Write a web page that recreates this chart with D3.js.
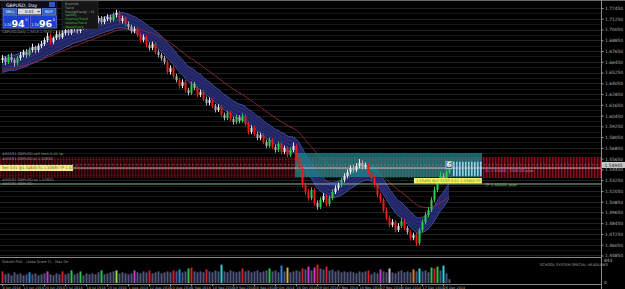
<!DOCTYPE html>
<html><head><meta charset="utf-8">
<script src="https://cdn.jsdelivr.net/npm/d3@7"></script>
<style>
html,body{margin:0;padding:0;background:#000;overflow:hidden}
svg{display:block;font-family:"DejaVu Sans",sans-serif}
</style></head><body>
<svg id="chart" width="625" height="289"></svg>
<script>
// GBPUSD daily bars
const opens = [
1.6665,1.6687,1.6643,1.6698,1.6665,1.6631,1.6687,
1.6721,1.6754,1.6721,1.6776,1.6810,1.6776,1.6821,
1.6843,1.6888,1.6933,1.6866,1.6910,1.6955,1.6921,
1.6966,1.6999,1.6966,1.7011,1.7033,1.6988,1.7022,
1.7055,1.7033,1.7078,1.7044,1.7100,1.7133,1.7089,
1.7122,1.7144,1.7111,1.7167,1.7189,1.7100,1.7133,
1.7066,1.7033,1.6988,1.7011,1.6944,1.6888,1.6921,
1.6832,1.6799,1.6843,1.6754,1.6721,1.6687,1.6643,
1.6531,1.6576,1.6486,1.6442,1.6375,1.6420,1.6330,
1.6297,1.6397,1.6353,1.6275,1.6308,1.6230,1.6185,
1.6219,1.6152,1.6107,1.6141,1.6052,1.6018,1.6074,
1.6007,1.5973,1.6029,1.5985,1.6040,1.5951,1.5862,
1.5907,1.5840,1.5795,1.5828,1.5750,1.5706,1.5773,
1.5695,1.5661,1.5728,1.5639,1.5684,1.5605,1.5661,
1.5706,1.5572,1.5460,1.5271,1.5193,1.5126,1.5215,
1.5070,1.5026,1.5104,1.5148,1.5059,1.5126,1.5193,
1.5237,1.5271,1.5327,1.5371,1.5416,1.5460,1.5438,
1.5483,1.5516,1.5472,1.5494,1.5416,1.5349,1.5271,
1.5159,1.5104,1.4992,1.4903,1.4825,1.4858,1.4769,
1.4814,1.4869,1.4791,1.4747,1.4680,1.4713,1.4624,
1.4769,1.4858,1.4936,1.4992,1.5104,1.5215,1.5304,
1.5371,1.5327,1.5416];
const highs = [
1.6722,1.6705,1.6730,1.6741,1.6684,1.6712,1.6755,
1.6780,1.6788,1.6805,1.6848,1.6825,1.6850,1.6878,
1.6915,1.6970,1.6960,1.6927,1.6990,1.6982,1.6995,
1.7030,1.7025,1.7040,1.7065,1.7058,1.7040,1.7088,
1.7080,1.7105,1.7100,1.7128,1.7160,1.7155,1.7150,
1.7175,1.7170,1.7195,1.7225,1.7215,1.7160,1.7152,
1.7095,1.7060,1.7040,1.7035,1.6970,1.6950,1.6945,
1.6860,1.6870,1.6865,1.6780,1.6745,1.6710,1.6665,
1.6605,1.6600,1.6510,1.6465,1.6450,1.6442,1.6355,
1.6425,1.6420,1.6375,1.6335,1.6330,1.6255,1.6248,
1.6240,1.6175,1.6170,1.6162,1.6078,1.6100,1.6095,
1.6030,1.6055,1.6050,1.6070,1.6062,1.5975,1.5935,
1.5930,1.5865,1.5855,1.5850,1.5775,1.5800,1.5795,
1.5720,1.5755,1.5750,1.5710,1.5705,1.5690,1.5745,
1.5728,1.5595,1.5485,1.5300,1.5225,1.5245,1.5238,
1.5098,1.5135,1.5180,1.5170,1.5155,1.5222,1.5268,
1.5300,1.5355,1.5402,1.5445,1.5490,1.5495,1.5515,
1.5562,1.5545,1.5522,1.5518,1.5440,1.5372,1.5295,
1.5185,1.5128,1.5020,1.4930,1.4890,1.4880,1.4845,
1.4900,1.4892,1.4815,1.4770,1.4740,1.4735,1.4795,
1.4885,1.4965,1.5025,1.5135,1.5250,1.5340,1.5420,
1.5400,1.5445,1.5530];
const lows = [
1.6631,1.6608,1.6620,1.6640,1.6592,1.6605,1.6660,
1.6695,1.6690,1.6702,1.6750,1.6741,1.6750,1.6795,
1.6820,1.6862,1.6838,1.6841,1.6888,1.6893,1.6900,
1.6940,1.6938,1.6945,1.6985,1.6960,1.6965,1.7000,
1.7005,1.7010,1.7018,1.7025,1.7075,1.7060,1.7065,
1.7098,1.7085,1.7090,1.7140,1.7075,1.7072,1.7040,
1.7005,1.6960,1.6962,1.6920,1.6860,1.6862,1.6805,
1.6770,1.6775,1.6728,1.6692,1.6658,1.6615,1.6505,
1.6502,1.6460,1.6415,1.6345,1.6350,1.6302,1.6270,
1.6275,1.6328,1.6250,1.6252,1.6205,1.6158,1.6160,
1.6128,1.6080,1.6085,1.6025,1.5990,1.5995,1.5980,
1.5945,1.5952,1.5960,1.5965,1.5925,1.5835,1.5838,
1.5812,1.5768,1.5770,1.5725,1.5680,1.5685,1.5670,
1.5632,1.5638,1.5612,1.5615,1.5578,1.5582,1.5638,
1.5545,1.5432,1.5240,1.5162,1.5095,1.5100,1.5040,
1.4995,1.5002,1.5080,1.5030,1.5035,1.5100,1.5170,
1.5210,1.5248,1.5300,1.5345,1.5390,1.5410,1.5415,
1.5458,1.5445,1.5448,1.5390,1.5322,1.5245,1.5130,
1.5075,1.4965,1.4875,1.4798,1.4800,1.4740,1.4745,
1.4790,1.4765,1.4720,1.4652,1.4655,1.4588,1.4600,
1.4745,1.4830,1.4910,1.4970,1.5080,1.5190,1.5280,
1.5300,1.5305,1.5395];
const closes = [
1.6687,1.6643,1.6698,1.6665,1.6631,1.6687,1.6721,
1.6754,1.6721,1.6776,1.6810,1.6776,1.6821,1.6843,
1.6888,1.6933,1.6866,1.6910,1.6955,1.6921,1.6966,
1.6999,1.6966,1.7011,1.7033,1.6988,1.7022,1.7055,
1.7033,1.7078,1.7044,1.7100,1.7133,1.7089,1.7122,
1.7144,1.7111,1.7167,1.7189,1.7100,1.7133,1.7066,
1.7033,1.6988,1.7011,1.6944,1.6888,1.6921,1.6832,
1.6799,1.6843,1.6754,1.6721,1.6687,1.6643,1.6531,
1.6576,1.6486,1.6442,1.6375,1.6420,1.6330,1.6297,
1.6397,1.6353,1.6275,1.6308,1.6230,1.6185,1.6219,
1.6152,1.6107,1.6141,1.6052,1.6018,1.6074,1.6007,
1.5973,1.6029,1.5985,1.6040,1.5951,1.5862,1.5907,
1.5840,1.5795,1.5828,1.5750,1.5706,1.5773,1.5695,
1.5661,1.5728,1.5639,1.5684,1.5605,1.5661,1.5706,
1.5572,1.5460,1.5271,1.5193,1.5126,1.5215,1.5070,
1.5026,1.5104,1.5148,1.5059,1.5126,1.5193,1.5237,
1.5271,1.5327,1.5371,1.5416,1.5460,1.5438,1.5483,
1.5516,1.5472,1.5494,1.5416,1.5349,1.5271,1.5159,
1.5104,1.4992,1.4903,1.4825,1.4858,1.4769,1.4814,
1.4869,1.4791,1.4747,1.4680,1.4713,1.4624,1.4769,
1.4858,1.4936,1.4992,1.5104,1.5215,1.5304,1.5371,
1.5327,1.5416,1.5494];

// tick volume + PVA colour class of each bar
const volumes = [
408,306,340,272,374,306,340,272,306,374,
306,340,272,306,340,408,306,272,340,306,
408,306,340,442,306,340,408,272,340,306,
340,306,374,442,306,340,374,408,442,340,
374,340,306,340,442,374,340,408,374,442,
340,374,408,340,374,408,374,442,408,476,
374,408,510,544,408,374,408,374,476,408,
374,442,408,646,408,374,442,408,374,408,
510,408,442,374,408,442,374,408,442,510,
408,442,374,612,408,544,374,408,442,408,
510,476,578,442,544,646,510,476,578,442,
476,408,442,374,408,374,408,374,340,408,
374,408,442,306,374,340,476,408,374,510,
374,340,408,442,374,408,374,476,408,510,
408,442,374,544,510,578,442,612,340,136];
const volKind = ("rnnnnnnnnb" + "nnnnnmnnnn" + "rnngnngnnn" + "nnngnnnnln" + "nnnnmnnnnr" +
                 "nnnnnnnrnb" + "nngrnnnnrn" + "nnncnnnnnn" + "rnnnnnnnng" + "nnnbnynnnn" +
                 "rnmnmrnnrn" + "nnnnnnnnnn" + "nnrnnnmnnw" + "nnnnnnnonc" + "nnngrgncnn").split("");
const volMax = 843;

const priceTicks = [1.7245,1.7125,1.7005,1.6885,1.6765,1.6645,1.6525,1.6405,1.6285,1.6165,1.6045,1.5925,
                    1.5805,1.5685,1.5565,1.5445,1.5325,1.5205,1.5085,1.4965,1.4845,1.4725,1.4605,1.4485];
const dateIdx = [0,7,14,21,28,35,42,49,56,63,70,77,84,91,98,105,112,119,126,133,140,147];
const dateLabels = ["4 Jun 2014","13 Jun 2014","24 Jun 2014","3 Jul 2014","14 Jul 2014","23 Jul 2014",
                    "1 Aug 2014","12 Aug 2014","21 Aug 2014","1 Sep 2014","10 Sep 2014","19 Sep 2014",
                    "30 Sep 2014","9 Oct 2014","20 Oct 2014","29 Oct 2014","7 Nov 2014","18 Nov 2014",
                    "27 Nov 2014","8 Dec 2014","17 Dec 2014","26 Dec 2014"];

// trade objects drawn on the chart
const zoneTop = 1.5628, zoneBottom = 1.5360, zoneFrom = 98, zoneTo = 160;
const bandTop = 1.5583, bandBottom = 1.5349;
const entryLevel = 1.5460, tpLevel = 1.5282;
const bid = 1.54945, ask = 1.54965;
const ribbonSeed = 1.6600, slowSeed = 1.6540;

const svg = d3.select("#chart");
const plotR = 601, mainBottom = 256, volTop = 258, volBottom = 283;

const x = d3.scaleLinear().domain([0, 200]).range([2, 602]);
const y = d3.scaleLinear().domain([1.4479, 1.7334]).range([mainBottom, 0]);
const yv = d3.scaleLinear().domain([0, volMax]).range([volBottom, volTop + 1]);

svg.append("rect").attr("width", 625).attr("height", 289).attr("fill", "#000");

let defs = svg.append("defs");
defs.append("clipPath").attr("id", "clipMain")
    .append("rect").attr("x", 0).attr("y", 1).attr("width", plotR).attr("height", mainBottom);
let rp = defs.append("pattern").attr("id", "redStripe").attr("patternUnits", "userSpaceOnUse")
    .attr("width", 3).attr("height", 6);
rp.append("rect").attr("width", 3).attr("height", 6).attr("fill", "#26030a");
rp.append("rect").attr("width", 1.4).attr("height", 6).attr("fill", "#a0101e");
let cp = defs.append("pattern").attr("id", "cyanStripe").attr("patternUnits", "userSpaceOnUse")
    .attr("width", 3).attr("height", 6);
cp.append("rect").attr("width", 1.6).attr("height", 6).attr("fill", "#8fd4f4");

let main = svg.append("g").attr("clip-path", "url(#clipMain)");

// grid
priceTicks.forEach(function(t) {
    main.append("line").attr("x1", 0).attr("x2", plotR).attr("y1", Math.round(y(t)) + .5).attr("y2", Math.round(y(t)) + .5)
        .attr("stroke", "#1f2226").attr("stroke-width", 1);
    main.append("line").attr("x1", 0).attr("x2", plotR).attr("y1", Math.round(y(t - 0.006)) + .5).attr("y2", Math.round(y(t - 0.006)) + .5)
        .attr("stroke", "#121814").attr("stroke-width", 1);
});

// red striped band, dimmer left of the zone
main.append("rect").attr("x", 0).attr("width", x(zoneFrom))
    .attr("y", y(bandTop)).attr("height", y(bandBottom) - y(bandTop))
    .attr("fill", "url(#redStripe)").attr("opacity", 0.55);
main.append("rect").attr("x", x(zoneFrom)).attr("width", plotR - x(zoneFrom))
    .attr("y", y(bandTop)).attr("height", y(bandBottom) - y(bandTop))
    .attr("fill", "url(#redStripe)").attr("opacity", 0.9);

// moving averages
function ema(vals, period, seed) {
    let k = 2 / (period + 1), prev = seed;
    return vals.map(function(v) { prev = prev + k * (v - prev); return prev; });
}
let fast = ema(closes, 12, ribbonSeed);
let slow = ema(closes, 30, slowSeed);
let hw = 0.0085;

main.append("path").datum(fast)
    .attr("d", d3.area().x(function(d, i) { return x(i); })
        .y0(function(d) { return y(d - hw); }).y1(function(d) { return y(d + hw); }).curve(d3.curveMonotoneX))
    .attr("fill", "#23286a").attr("opacity", 0.9);
[-1, -0.5, 0, 0.5, 1].forEach(function(f) {
    main.append("path").datum(fast)
        .attr("d", d3.line().x(function(d, i) { return x(i); }).y(function(d) { return y(d + f * hw); }).curve(d3.curveMonotoneX))
        .attr("fill", "none").attr("stroke", Math.abs(f) === 1 ? "#4a52ac" : "#343c92")
        .attr("stroke-width", Math.abs(f) === 1 ? 0.9 : 0.6);
});
main.append("path").datum(slow)
    .attr("d", d3.line().x(function(d, i) { return x(i); }).y(function(d) { return y(d); }).curve(d3.curveMonotoneX))
    .attr("fill", "none").attr("stroke", "#8c2a30").attr("stroke-width", 0.9);

// teal zone
main.append("rect").attr("x", x(zoneFrom) - 1).attr("width", x(zoneTo) - x(zoneFrom) + 1)
    .attr("y", y(zoneTop)).attr("height", y(zoneBottom) - y(zoneTop))
    .attr("fill", "#1f8a8e").attr("opacity", 0.72);
main.append("rect").attr("x", x(150)).attr("width", x(160) - x(150))
    .attr("y", y(1.5530)).attr("height", y(1.5372) - y(1.5530))
    .attr("fill", "url(#cyanStripe)");

// level lines
main.append("line").attr("x1", 0).attr("x2", plotR).attr("y1", y(entryLevel)).attr("y2", y(entryLevel))
    .attr("stroke", "#e9c4c8").attr("stroke-width", 0.9);
main.append("line").attr("x1", 0).attr("x2", plotR).attr("y1", y(tpLevel)).attr("y2", y(tpLevel))
    .attr("stroke", "#a8c8a0").attr("stroke-width", 0.9);
main.append("line").attr("x1", 0).attr("x2", plotR).attr("y1", y(bid)).attr("y2", y(bid))
    .attr("stroke", "#8a8a8a").attr("stroke-width", 0.6).attr("stroke-dasharray", "2,2");

// candles
let bars = d3.range(closes.length).map(function(i) {
    return {i: i, o: opens[i], h: highs[i], l: lows[i], c: closes[i]};
});
function candleColor(d) {
    let mv = d.c - d.o;
    if (mv > 0.0055) return "#2ecb4e";
    if (mv < -0.0055) return "#e41c1c";
    return mv >= 0 ? "#e8e8e8" : "#b0b0b0";
}
let cg = main.append("g");
cg.selectAll("line.wick").data(bars).join("line").attr("class", "wick")
    .attr("x1", function(d) { return x(d.i) + .5; }).attr("x2", function(d) { return x(d.i) + .5; })
    .attr("y1", function(d) { return y(d.h); }).attr("y2", function(d) { return y(d.l); })
    .attr("stroke", candleColor).attr("stroke-width", 1);
cg.selectAll("rect.body").data(bars).join("rect").attr("class", "body")
    .attr("x", function(d) { return x(d.i) - .5; }).attr("width", 2)
    .attr("y", function(d) { return y(Math.max(d.o, d.c)); })
    .attr("height", function(d) { return Math.max(1, Math.abs(y(d.o) - y(d.c))); })
    .attr("fill", candleColor);

// trade labels
function tiny(g, tx, ty, s, fill, size) {
    return g.append("text").attr("x", tx).attr("y", ty).text(s)
        .attr("fill", fill).attr("font-size", size || 3.6);
}
tiny(svg, 2, y(bandTop) - 2, "#00531 GBPUSD sell limit 0.01 tp", "#9a9a9a");
tiny(svg, 2, y(bandTop) + 3, "#00531 GBPUSD sl 1.55830", "#9a9a9a");
svg.append("rect").attr("x", 0).attr("y", y(entryLevel) - 3).attr("width", 73).attr("height", 6).attr("fill", "#f4ef90");
tiny(svg, 2, y(entryLevel) + 1.3, "Sell 0.01 @1.54600  SL 1.55830  TP 1.52820", "#5a5a20", 3.6);
tiny(svg, 2, y(tpLevel) - 3, "#00531 GBPUSD tp 1.52820", "#9a9a9a");
tiny(svg, 2, y(tpLevel) + 1.5, "#00531 GBPUSD", "#9a9a9a");
svg.append("rect").attr("x", x(137.3)).attr("y", y(1.5349)).attr("width", 68).attr("height", 5.5).attr("fill", "#f4ef6a");
tiny(svg, x(137.3) + 2, y(1.5349) + 4, "1.53490  BUY STOP  0.01  1.53490  TP", "#3b9a2a", 3.6);
tiny(svg, x(161), y(1.5420), "SL 1.55830, 1540.00 pips", "#b67ad8", 3.8);
tiny(svg, x(161), y(1.5255), "TP 1.52820, pips", "#7ac46a", 3.8);
svg.append("rect").attr("x", x(148)).attr("y", y(1.5490) - 4).attr("width", 6).attr("height", 7)
    .attr("fill", "#2a56c8").attr("stroke", "#dfe8ff").attr("stroke-width", 0.6);
svg.append("text").attr("x", x(148) + 3).attr("y", y(1.5490) + 2).attr("text-anchor", "middle")
    .attr("fill", "#fff").attr("font-size", 7).attr("font-weight", "bold").text("6");

// frame lines
svg.append("line").attr("x1", 0).attr("x2", 625).attr("y1", .5).attr("y2", .5).attr("stroke", "#6a6a6a");
svg.append("line").attr("x1", 0).attr("x2", plotR).attr("y1", 257.5).attr("y2", 257.5).attr("stroke", "#8a8a8a");
svg.append("line").attr("x1", 0).attr("x2", plotR).attr("y1", volBottom + 1.5).attr("y2", volBottom + 1.5).attr("stroke", "#8a8a8a");
svg.append("line").attr("x1", plotR + .5).attr("x2", plotR + .5).attr("y1", 0).attr("y2", 289).attr("stroke", "#8a8a8a");

// price axis
let pAxis = svg.append("g").attr("transform", "translate(" + (plotR + .5) + ",0)")
    .call(d3.axisRight(y).tickValues(priceTicks).tickFormat(d3.format(".5f")).tickSize(2).tickPadding(1.5));
pAxis.select(".domain").remove();
pAxis.selectAll("line").attr("stroke", "#9a9a9a");
pAxis.selectAll("text").attr("fill", "#b0b0b0").attr("font-size", 4.4).attr("font-family", "DejaVu Sans");
svg.append("rect").attr("x", plotR + 1).attr("y", y(bid) - 3).attr("width", 24).attr("height", 6).attr("fill", "#c8c8c8");
svg.append("text").attr("x", plotR + 3.5).attr("y", y(bid) + 1.6).attr("fill", "#111").attr("font-size", 4.4).text(d3.format(".5f")(bid));

// volume panel
let vColor = {n: "#50557a", r: "#d01e2c", b: "#2d84e2", m: "#c43ccc", g: "#2fc04c", l: "#8fe044",
              c: "#2ad2da", y: "#c8b43c", o: "#d27a30", w: "#cbbad4"};
svg.append("g").selectAll("rect").data(volumes).join("rect")
    .attr("x", function(d, i) { return x(i) - .5; }).attr("width", 2)
    .attr("y", function(d) { return yv(d); })
    .attr("height", function(d) { return yv(0) - yv(d); })
    .attr("fill", function(d, i) { return vColor[volKind[i]]; });
tiny(svg, 2, volTop + 4.5, "Skeuth PVA - (Area Scale 2) - Max On", "#9a9a9a", 3.6);
tiny(svg, 540, volTop + 8, "SCHOOL SYSTEM SPECIAL HEADLINES", "#a8a8a8", 3.6);
tiny(svg, plotR + 3, volTop + 4, String(volMax), "#b0b0b0", 4.4);
tiny(svg, plotR + 3, volBottom + 1, "0", "#b0b0b0", 4.4);

// time axis
let tAxis = svg.append("g").attr("transform", "translate(0," + (volBottom + 1.5) + ")")
    .call(d3.axisBottom(x).tickValues(dateIdx).tickFormat(function(d, k) { return dateLabels[k]; }).tickSize(1.5).tickPadding(0.5));
tAxis.select(".domain").remove();
tAxis.selectAll("line").attr("stroke", "#9a9a9a");
tAxis.selectAll("text").attr("fill", "#b0b0b0").attr("font-size", 3.4).attr("text-anchor", "start")
    .attr("font-family", "DejaVu Sans");

// one-click trade panel
let tp = svg.append("g");
tp.append("rect").attr("x", 2).attr("y", 1).attr("width", 55).attr("height", 28).attr("fill", "#0c0c1c").attr("stroke", "#3a3a50").attr("stroke-width", .5);
tiny(tp, 6, 6.5, "GBPUSD, Day", "#ffffff", 4.6);
tp.append("rect").attr("x", 49).attr("y", 2).attr("width", 6).attr("height", 5).attr("fill", "#2a56c8");
tp.append("rect").attr("x", 3).attr("y", 8.5).attr("width", 14).attr("height", 6).attr("fill", "#2f5fd8").attr("stroke", "#9cb6ff").attr("stroke-width", .4);
tiny(tp, 5.5, 13, "SELL", "#ffffff", 3.8);
tp.append("rect").attr("x", 18).attr("y", 8.5).attr("width", 23).attr("height", 6).attr("fill", "#d8d8e0");
tiny(tp, 19, 13, "-", "#222", 4);
tiny(tp, 25, 13, "0.01", "#222", 4);
tiny(tp, 37, 13, "+", "#222", 4);
tp.append("rect").attr("x", 42).attr("y", 8.5).attr("width", 14).attr("height", 6).attr("fill", "#2f5fd8").attr("stroke", "#9cb6ff").attr("stroke-width", .4);
tiny(tp, 45, 13, "BUY", "#ffffff", 3.8);
function priceBox(bx, p) {
    let s = d3.format(".5f")(p);
    tp.append("rect").attr("x", bx).attr("y", 15.5).attr("width", 26).attr("height", 12.5)
        .attr("fill", "#1c3fd0").attr("stroke", "#7e98ff").attr("stroke-width", .5);
    tiny(tp, bx + 1, 26, s.slice(0, 4), "#ffffff", 3.3);
    tp.append("text").attr("x", bx + 8.5).attr("y", 27).attr("fill", "#fff").attr("font-size", 9.5)
        .attr("font-weight", "bold").text(s.slice(4, 6));
    tiny(tp, bx + 22.3, 20.5, s.slice(6), "#ffffff", 3.6);
}
priceBox(3, bid);
priceBox(30.5, ask);

let info = svg.append("g");
info.append("rect").attr("x", 62).attr("y", 1).attr("width", 36).attr("height", 28).attr("fill", "#151515").attr("stroke", "#3a3a3a").attr("stroke-width", .5);
["BuyHold", "Trend", "Strength(avg) : 32", "Validity", "Channel/Trend", "Volume/Trend", "Wave/Cycle"].forEach(function(s, k) {
    tiny(info, 65, 5 + k * 3.8, s, k < 3 ? "#9aa39a" : "#43c443", 3.2);
});
tiny(svg, 2, 33, "GBPUSD,Daily  " + [opens, highs, lows, closes].map(function(a) { return a[a.length - 1].toFixed(4); }).join(" "), "#9a9a9a", 3.4);
</script>
</body></html>
